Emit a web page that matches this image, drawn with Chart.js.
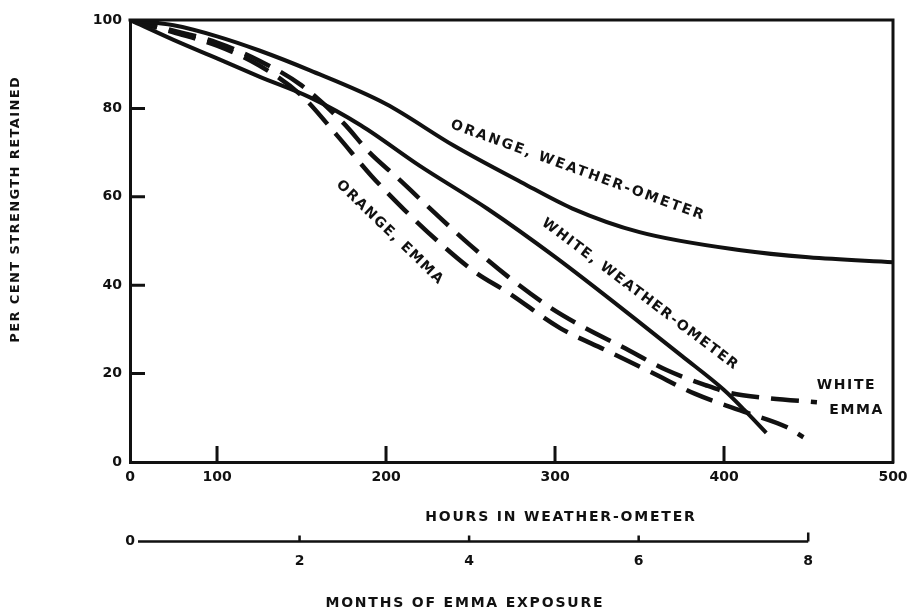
<!DOCTYPE html>
<html>
<head>
<meta charset="utf-8">
<script src="https://cdn.jsdelivr.net/npm/chart.js@4.4.1/dist/chart.umd.min.js"></script>
<style>
  body { margin: 0; background: #fff; }
  #wrap { width: 909px; height: 611px; }
</style>
</head>
<body>
<div id="wrap"><canvas id="strength-chart" width="909" height="611"></canvas></div>
<script>
// tick labels
let hourTicks = [0, 100, 200, 300, 400, 500];
let percentTicks = [0, 20, 40, 60, 80, 100];
let monthTicks = [0, 2, 4, 6, 8];

// Orange, Weather-Ometer (solid)
let orangeWoHours = [0, 50, 100, 125, 155, 200, 240, 280, 310, 350, 410, 450, 500];
let orangeWoValues = [100, 98.8, 96.3, 93.1, 88.6, 81, 71.6, 63.3, 57.4, 52, 47.9, 46.3, 45.2];

// White, Weather-Ometer (solid)
let whiteWoHours = [0, 50, 100, 125, 155, 185, 220, 260, 300, 350, 375, 400, 412, 425];
let whiteWoValues = [100, 95.5, 91.3, 87.2, 82.5, 76.2, 67, 57.3, 46.4, 31.6, 24, 16.3, 11.8, 6.6];

// White, EMMA (dashed)
let whiteEmmaHours = [0, 50, 100, 125, 150, 175, 190, 207, 229, 250, 272, 297, 317, 340, 366, 389, 404, 425, 455];
let whiteEmmaValues = [100, 97.6, 94.9, 90.8, 85.2, 76.6, 70.1, 64.2, 56.3, 49, 42, 35, 30.5, 26, 20.8, 17.4, 15.6, 14.5, 13.5];

// Orange, EMMA (dashed)
let orangeEmmaHours = [0, 50, 100, 125, 150, 171, 191, 211, 232, 253, 272, 303, 330, 357, 383, 414, 437, 447];
let orangeEmmaValues = [100, 97.2, 94.2, 89.7, 82.9, 73.9, 64.9, 57, 49.5, 42.9, 38.4, 30.3, 25.3, 20.3, 15.4, 11.1, 7.9, 5.6];

// curve labels: text, hours, percent, angle (deg)
let curveLabels = [
  ['ORANGE, WEATHER-OMETER', 313, 66, 20],
  ['WHITE, WEATHER-OMETER', 350, 38, 37],
  ['ORANGE, EMMA', 202, 52, 44],
  ['WHITE', 472, 17.4, 0],
  ['EMMA', 478, 11.7, 0]
];

const ink = '#111';
const fontFamily = '"DejaVu Sans", sans-serif';

// the first 100 hours of the original axis are drawn squeezed
const BREAK = 100;
const SQUEEZE = 0.515;

class SqueezedScale extends Chart.LinearScale {
  toU(v) { return v < BREAK ? v * SQUEEZE : v - BREAK * (1 - SQUEEZE); }
  fromU(u) { return u < BREAK * SQUEEZE ? u / SQUEEZE : u + BREAK * (1 - SQUEEZE); }
  getPixelForValue(value) {
    if (value === null) return NaN;
    const u0 = this.toU(this.min), u1 = this.toU(this.max);
    return this.getPixelForDecimal((this.toU(value) - u0) / (u1 - u0));
  }
  getValueForPixel(pixel) {
    const u0 = this.toU(this.min), u1 = this.toU(this.max);
    return this.fromU(u0 + this.getDecimalForPixel(pixel) * (u1 - u0));
  }
}
SqueezedScale.id = 'squeezed';
SqueezedScale.defaults = Chart.LinearScale.defaults;
Chart.register(SqueezedScale);

function pts(xs, ys) {
  return xs.map((x, i) => ({ x: x, y: ys[i] }));
}

function spaced(ctx, text, x, y, spacing) {
  ctx.letterSpacing = spacing + 'px';
  const w = ctx.measureText(text).width;
  ctx.fillText(text, x - w / 2 + spacing / 2, y);
  ctx.letterSpacing = '0px';
}

// box edges, inward ticks, months axis, titles and curve labels
const decor = {
  id: 'decor',
  afterDraw(chart) {
    const { ctx, chartArea: a, scales } = chart;
    const xs = scales.x, ys = scales.y, ms = scales.m;
    ctx.save();
    ctx.strokeStyle = ink;
    ctx.fillStyle = ink;
    ctx.lineWidth = 3;
    ctx.lineCap = 'square';

    ctx.beginPath();
    ctx.moveTo(a.left, a.top);
    ctx.lineTo(a.right, a.top);
    ctx.lineTo(a.right, a.bottom);
    ctx.stroke();

    ctx.lineCap = 'butt';
    ctx.beginPath();
    percentTicks.slice(1, -1).forEach(v => {
      const py = ys.getPixelForValue(v);
      ctx.moveTo(a.left, py);
      ctx.lineTo(a.left + 15, py);
    });
    hourTicks.slice(1, -1).forEach(v => {
      const px = xs.getPixelForValue(v);
      ctx.moveTo(px, a.bottom);
      ctx.lineTo(px, a.bottom - 16);
    });
    ctx.stroke();

    // months of EMMA exposure axis
    const my = ms.top + 1.5;
    const m0 = ms.getPixelForValue(monthTicks[0]);
    const mEnd = ms.getPixelForValue(monthTicks[monthTicks.length - 1]);
    ctx.lineWidth = 2.5;
    ctx.beginPath();
    ctx.moveTo(m0 + 8, my);
    ctx.lineTo(mEnd, my);
    monthTicks.slice(1).forEach(v => {
      const px = ms.getPixelForValue(v);
      ctx.moveTo(px, my);
      ctx.lineTo(px, my - (v === 8 ? 9 : 6));
    });
    ctx.stroke();

    ctx.font = 'bold 14px ' + fontFamily;
    ctx.textAlign = 'left';
    ctx.textBaseline = 'middle';
    const zw = ctx.measureText('0').width;
    ctx.fillText('0', m0 - zw / 2, my);

    // axis titles
    ctx.font = 'bold 14px ' + fontFamily;
    spaced(ctx, 'HOURS IN WEATHER-OMETER', a.left + 430, 517, 1.8);
    spaced(ctx, 'MONTHS OF EMMA EXPOSURE', a.left + 334, 603, 1.8);
    ctx.save();
    ctx.translate(16, 210);
    ctx.rotate(-Math.PI / 2);
    ctx.font = 'bold 13px ' + fontFamily;
    spaced(ctx, 'PER CENT STRENGTH RETAINED', 0, 0, 1.4);
    ctx.restore();

    // curve labels
    ctx.font = 'bold 14px ' + fontFamily;
    curveLabels.forEach(([text, h, v, ang], i) => {
      ctx.save();
      ctx.translate(xs.getPixelForValue(h), ys.getPixelForValue(v));
      ctx.rotate(ang * Math.PI / 180);
      spaced(ctx, text, 0, 0, i === 0 ? 2.1 : 1.6);
      ctx.restore();
    });
    ctx.restore();
  }
};

let solid = { borderColor: ink, borderWidth: 4, pointRadius: 0, fill: false, cubicInterpolationMode: 'monotone' };
let dashed = Object.assign({}, solid, { borderWidth: 4.5, borderDash: [28, 12] });

let ctx = document.getElementById('strength-chart').getContext('2d');
Chart.defaults.font.family = fontFamily;
Chart.defaults.font.weight = 'bold';
Chart.defaults.font.size = 14;
Chart.defaults.color = ink;

function flatFit(height) {
  return s => { s.height = height; s.paddingLeft = 0; s.paddingRight = 0; };
}

let strengthChart = new Chart(ctx, {
  type: 'line',
  data: {
    datasets: [
      Object.assign({ label: 'Orange, Weather-Ometer', data: pts(orangeWoHours, orangeWoValues) }, solid),
      Object.assign({ label: 'White, Weather-Ometer', data: pts(whiteWoHours, whiteWoValues) }, solid),
      Object.assign({ label: 'White, EMMA', data: pts(whiteEmmaHours, whiteEmmaValues) }, dashed),
      Object.assign({ label: 'Orange, EMMA', data: pts(orangeEmmaHours, orangeEmmaValues) }, dashed)
    ]
  },
  options: {
    responsive: false,
    animation: false,
    devicePixelRatio: 1,
    layout: { padding: { top: 20, right: 16, bottom: 0, left: 0 } },
    plugins: { legend: { display: false }, tooltip: { enabled: false } },
    scales: {
      x: {
        type: 'squeezed',
        position: 'bottom',
        min: 0,
        max: 500,
        afterBuildTicks: s => { s.ticks = hourTicks.map(v => ({ value: v })); },
        afterFit: flatFit(78),
        grid: { display: false, drawTicks: false },
        border: { display: true, color: ink, width: 3 },
        ticks: { padding: 7, maxRotation: 0, autoSkip: false }
      },
      m: {
        type: 'linear',
        axis: 'x',
        position: 'bottom',
        min: 0,
        max: 9,
        afterBuildTicks: s => { s.ticks = monthTicks.map(v => ({ value: v })); },
        afterFit: flatFit(71),
        grid: { display: false, drawTicks: false },
        border: { display: false },
        ticks: { padding: 13, maxRotation: 0, autoSkip: false, callback: v => (v === 0 ? '' : v) }
      },
      y: {
        min: 0,
        max: 100,
        afterBuildTicks: s => { s.ticks = percentTicks.map(v => ({ value: v })); },
        afterFit: s => { s.width = 130; s.paddingTop = 0; s.paddingBottom = 0; },
        grid: { display: false, drawTicks: false },
        border: { display: true, color: ink, width: 3 },
        ticks: { padding: 8 }
      }
    }
  },
  plugins: [decor]
});
</script>
</body>
</html>
